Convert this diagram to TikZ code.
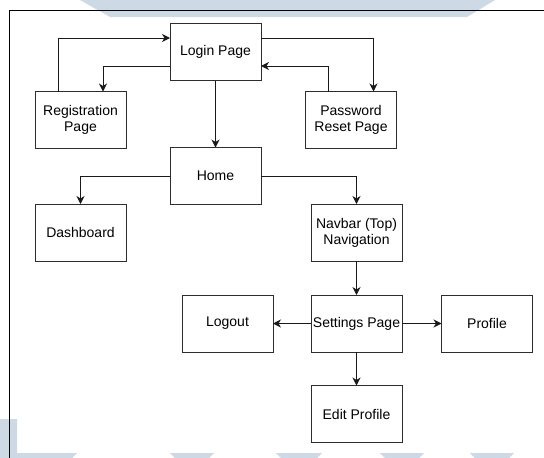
\documentclass[tikz,border=0pt]{standalone}
\usepackage{fontspec}
\setmainfont{Liberation Sans}
\usetikzlibrary{arrows.meta}

\definecolor{wmark}{RGB}{205,217,228}
\definecolor{boxline}{RGB}{45,45,45}
\definecolor{arrline}{RGB}{25,25,25}

\tikzset{
  page/.style={draw=boxline, line width=1pt, fill=white,
    minimum width=91pt, minimum height=57pt, inner sep=0pt, outer sep=0pt,
    align=center, font=\fontsize{14}{16}\selectfont},
  arr/.style={draw=arrline, line width=1pt,
    -{Stealth[length=8pt,width=8pt,inset=2.5pt]}},
}

\begin{document}
\begin{tikzpicture}[x=1pt,y=-1pt]
  \useasboundingbox (0,0) rectangle (544,458);
  \fill[white] (0,0) rectangle (544,458);

  % faint background bands
  \fill[wmark] (80,0) -- (495,0) -- (467,17) -- (110,17) -- cycle;
  \fill[wmark] (0,419) -- (17,419) -- (17,453) -- (77,453) -- (72,458) -- (0,458) -- cycle;
  \fill[wmark] (170,453) -- (214,453) -- (209,458) -- (175,458) -- cycle;
  \fill[wmark] (276,453) -- (322,453) -- (317,458) -- (281,458) -- cycle;
  \fill[wmark] (380,453) -- (424,453) -- (419,458) -- (385,458) -- cycle;
  \fill[wmark] (470,453) -- (514,453) -- (509,458) -- (475,458) -- cycle;

  % frame
  \draw[black, line width=1pt] (9,458) -- (9,10) -- (544,10);

  % pages
  \node[page] (login)    at (215.5,52)   {Login Page};
  \node[page] (reg)      at (80.5,120)   {Registration\\Page};
  \node[page] (pwd)      at (351,120)    {Password\\Reset Page};
  \node[page] (home)     at (215.5,176)  {Home};
  \node[page] (dash)     at (80.5,232.5) {Dashboard};
  \node[page] (nav)      at (356.5,232.5){Navbar (Top)\\Navigation};
  \node[page] (settings) at (356.5,323.5){Settings Page};
  \node[page] (logout)   at (227.5,323.5){Logout};
  \node[page] (profile)  at (487,323.5)  {Profile};
  \node[page] (edit)     at (356.5,414)  {Edit Profile};

  % links
  \draw[arr] ([xshift=-22.5pt]reg.north) |- ([yshift=14pt]login.west);
  \draw[arr] ([yshift=-14pt]login.west) -| ([xshift=22.5pt]reg.north);
  \draw[arr] ([yshift=14pt]login.east) -| ([xshift=22.5pt]pwd.north);
  \draw[arr] ([xshift=-22.5pt]pwd.north) |- ([yshift=-14pt]login.east);
  \draw[arr] (login.south) -- (home.north);
  \draw[arr] (home.west) -| (dash.north);
  \draw[arr] (home.east) -| (nav.north);
  \draw[arr] (nav.south) -- (settings.north);
  \draw[arr] (settings.west) -- (logout.east);
  \draw[arr] (settings.east) -- (profile.west);
  \draw[arr] (settings.south) -- (edit.north);
\end{tikzpicture}
\end{document}
